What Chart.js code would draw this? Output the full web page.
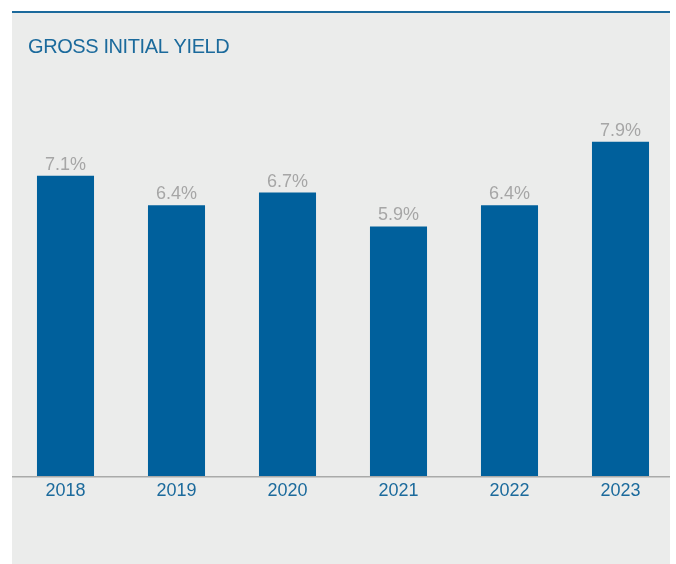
<!DOCTYPE html>
<html>
<head>
<meta charset="utf-8">
<script src="https://cdn.jsdelivr.net/npm/chart.js@4"></script>
<style>
  html, body { margin: 0; padding: 0; background: #ffffff; }
  #wrap { width: 676px; height: 564px; }
</style>
</head>
<body>
<div id="wrap"><canvas id="chart"></canvas></div>
<script>
// Gross initial yield by year (%)
const years = ['2018', '2019', '2020', '2021', '2022', '2023'];
const yieldValues = [7.1, 6.4, 6.7, 5.9, 6.4, 7.9];
const chartTitle = 'GROSS INITIAL YIELD';

const BLUE = '#00609c';
const TEXT_BLUE = '#1b6a9c';
const PANEL = '#ebeceb';
const LABEL_GREY = '#a6a6a6';
const FONT = '"Liberation Sans", Arial, Helvetica, sans-serif';

// Panel background, top rule, title and baseline
const panelPlugin = {
  id: 'panel',
  beforeDraw(chart) {
    const ctx = chart.ctx;
    ctx.save();
    ctx.fillStyle = '#ffffff';
    ctx.fillRect(0, 0, chart.width, chart.height);
    ctx.fillStyle = PANEL;
    ctx.fillRect(12, 12, 658, chart.height - 12);
    ctx.fillStyle = TEXT_BLUE;
    ctx.fillRect(12, 11, 658, 2);
    ctx.font = '20px ' + FONT;
    try { ctx.letterSpacing = '-0.4px'; } catch (e) {}
    ctx.textAlign = 'left';
    ctx.textBaseline = 'alphabetic';
    ctx.fillText(chartTitle, 28, 53);
    ctx.restore();
  },
  beforeDatasetsDraw(chart) {
    const ctx = chart.ctx;
    const y = chart.chartArea.bottom;
    ctx.save();
    ctx.strokeStyle = '#a9aaa9';
    ctx.lineWidth = 1.5;
    ctx.beginPath();
    ctx.moveTo(12, y + 0.75);
    ctx.lineTo(670, y + 0.75);
    ctx.stroke();
    ctx.restore();
  }
};

// Value labels above each bar
const valueLabels = {
  id: 'valueLabels',
  afterDatasetsDraw(chart) {
    const ctx = chart.ctx;
    const meta = chart.getDatasetMeta(0);
    const data = chart.data.datasets[0].data;
    ctx.save();
    ctx.font = '18px ' + FONT;
    ctx.fillStyle = LABEL_GREY;
    ctx.textAlign = 'center';
    ctx.textBaseline = 'alphabetic';
    meta.data.forEach((bar, i) => {
      ctx.fillText(data[i].toFixed(1) + '%', bar.x, bar.y - 6);
    });
    ctx.restore();
  }
};

new Chart(document.getElementById('chart'), {
  type: 'bar',
  data: {
    labels: years,
    datasets: [{
      data: yieldValues,
      backgroundColor: BLUE,
      borderWidth: 0,
      categoryPercentage: 1,
      barPercentage: 0.514
    }]
  },
  options: {
    responsive: true,
    maintainAspectRatio: false,
    animation: false,
    devicePixelRatio: 1,
    layout: { padding: { left: 10, right: 0, top: 53, bottom: 48 } },
    plugins: {
      legend: { display: false },
      title: { display: false },
      tooltip: { enabled: false }
    },
    scales: {
      x: {
        grid: { display: false, drawTicks: false },
        border: { display: false },
        ticks: {
          color: TEXT_BLUE,
          font: { family: FONT, size: 18 },
          padding: 4,
          maxRotation: 0
        },
        afterFit(scale) { scale.height = 40; }
      },
      y: {
        display: false,
        min: 0,
        max: 10
      }
    }
  },
  plugins: [panelPlugin, valueLabels]
});
</script>
</body>
</html>
